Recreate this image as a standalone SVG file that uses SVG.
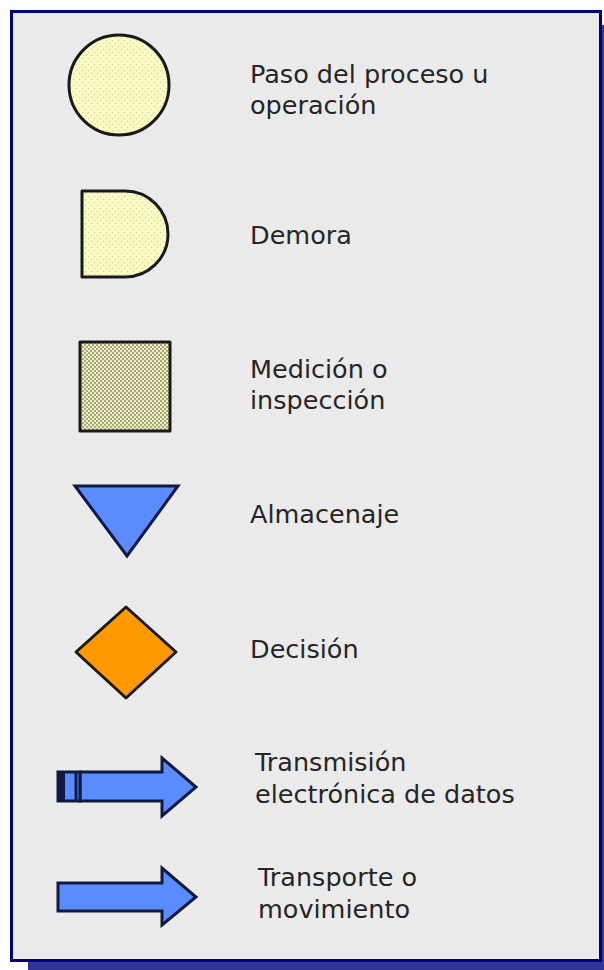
<svg xmlns="http://www.w3.org/2000/svg" width="604" height="970" viewBox="0 0 604 970">
  <defs>
    <pattern id="dots" width="6" height="6" patternUnits="userSpaceOnUse">
      <rect width="6" height="6" fill="#fbfbc6"/>
      <circle cx="1.5" cy="1.5" r="0.8" fill="#d6d6a0"/>
      <circle cx="4.5" cy="4.5" r="0.8" fill="#d6d6a0"/>
    </pattern>
    <pattern id="check" width="4" height="4" patternUnits="userSpaceOnUse">
      <rect width="4" height="4" fill="#eeeec0"/>
      <rect x="0" y="0" width="2" height="2" fill="#a8a880"/>
      <rect x="2" y="2" width="2" height="2" fill="#a8a880"/>
    </pattern>
    <style>
      .lbl { font-family: "DejaVu Sans", "Open Sans", sans-serif; font-size: 25.5px; fill: #262626; }
      .sym { stroke: #1a1a1a; stroke-width: 3; stroke-linejoin: round; }
      .blue { fill: #5b8cff; stroke: #101a40; stroke-width: 3; stroke-linejoin: miter; }
    </style>
  </defs>

  <!-- frame -->
  <rect x="28" y="960" width="576" height="10" fill="#333399"/>
  <rect x="600" y="25" width="4" height="945" fill="#333399"/>
  <rect x="11.5" y="11.5" width="589" height="949" fill="#ebebeb" stroke="#000080" stroke-width="3"/>

  <g id="operacion">
    <circle cx="119" cy="85" r="50" fill="url(#dots)" class="sym"/>
    <text class="lbl" x="250" y="83">Paso del proceso u</text>
    <text class="lbl" x="250" y="114">operación</text>
  </g>

  <g id="demora">
    <path d="M82 191 H125 A43 43 0 0 1 125 277 H82 Z" fill="url(#dots)" class="sym"/>
    <text class="lbl" x="250" y="244">Demora</text>
  </g>

  <g id="inspeccion">
    <rect x="80" y="342" width="90" height="89" fill="url(#check)" class="sym"/>
    <text class="lbl" x="250" y="378">Medición o</text>
    <text class="lbl" x="250" y="409">inspección</text>
  </g>

  <g id="almacenaje">
    <path d="M75 486 H178 L127 556 Z" class="blue"/>
    <text class="lbl" x="250" y="523">Almacenaje</text>
  </g>

  <g id="decision">
    <path d="M126 607 L176 652 L126 698 L76 652 Z" fill="#ff9900" class="sym"/>
    <text class="lbl" x="250" y="658">Decisión</text>
  </g>

  <g id="transmision">
    <path d="M80 772 H162 V758 L196 787 L162 816 V801 H80 Z" class="blue"/>
    <rect x="58" y="772" width="22" height="29" class="blue"/>
    <rect x="58" y="772" width="7" height="29" fill="#101a40"/>
    <line x1="76" y1="772" x2="76" y2="801" stroke="#101a40" stroke-width="3"/>
    <text class="lbl" x="255" y="771">Transmisión</text>
    <text class="lbl" x="255" y="803">electrónica de datos</text>
  </g>

  <g id="transporte">
    <path d="M58 883 H162 V868 L196 897 L162 925 V911 H58 Z" class="blue"/>
    <text class="lbl" x="258" y="886">Transporte o</text>
    <text class="lbl" x="258" y="918">movimiento</text>
  </g>
</svg>
